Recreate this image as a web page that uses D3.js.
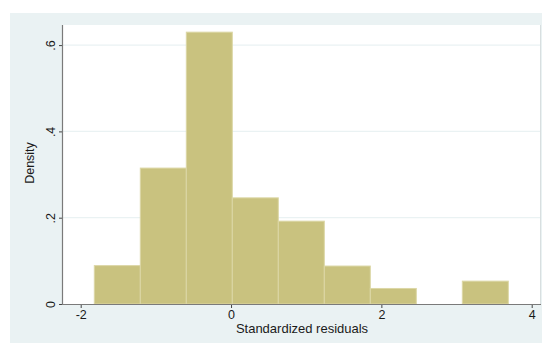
<!DOCTYPE html>
<html>
<head>
<meta charset="utf-8">
<script src="https://cdn.jsdelivr.net/npm/d3@7"></script>
<style>
  html, body { margin: 0; padding: 0; background: #ffffff; }
  svg { display: block; }
  text { font-family: "Liberation Sans", Arial, sans-serif; fill: #1a1a1a; }
</style>
</head>
<body>
<svg id="chart" width="542" height="343"></svg>
<script>
// Histogram of standardized residuals (density scale)
const binLeft = [-1.819, -1.207, -0.595, 0.017, 0.629, 1.241, 1.853, 2.465, 3.077];
const binWidth = 0.612;
const density = [0.089, 0.315, 0.630, 0.246, 0.192, 0.088, 0.036, 0, 0.053];
const xTicks = [-2, 0, 2, 4];
const xTickLabels = ["-2", "0", "2", "4"];
const yTicks = [0, 0.2, 0.4, 0.6];
const yTickLabels = ["0", ".2", ".4", ".6"];
const xTitle = "Standardized residuals";
const yTitle = "Density";

const svg = d3.select("#chart");

// graph region and plot region
const outer = { x: 10, y: 13, w: 540, h: 340 };
const plot = { left: 63, top: 25, right: 541, bottom: 304 };

svg.append("rect")
  .attr("x", outer.x).attr("y", outer.y)
  .attr("width", outer.w).attr("height", outer.h)
  .attr("fill", "#eaf2f3");

svg.append("rect")
  .attr("x", plot.left).attr("y", plot.top)
  .attr("width", plot.right - plot.left).attr("height", plot.bottom - plot.top)
  .attr("fill", "#ffffff");

svg.append("line")
  .attr("x1", plot.right - 0.5).attr("x2", plot.right - 0.5)
  .attr("y1", plot.top).attr("y2", plot.bottom)
  .attr("stroke", "#d8dfe0").attr("stroke-width", 1);

const x = d3.scaleLinear().domain([-2, 4]).range([80.7, 531.7]);
const y = d3.scaleLinear().domain([0, 0.6]).range([plot.bottom, plot.bottom - 0.6 * 431.5]);

// horizontal grid lines
svg.append("g")
  .selectAll("line")
  .data(yTicks.filter(d => d > 0))
  .join("line")
  .attr("x1", plot.left).attr("x2", plot.right - 1)
  .attr("y1", d => y(d)).attr("y2", d => y(d))
  .attr("stroke", "#eaf2f3").attr("stroke-width", 1.2);

// bars
const bins = binLeft.map((l, i) => ({ x0: l, x1: l + binWidth, d: density[i] }))
  .filter(b => b.d > 0);

svg.append("g")
  .selectAll("rect")
  .data(bins)
  .join("rect")
  .attr("x", b => x(b.x0))
  .attr("y", b => y(b.d))
  .attr("width", b => x(b.x1) - x(b.x0))
  .attr("height", b => y(0) - y(b.d))
  .attr("fill", "#c9c27f")
  .attr("stroke", "#dcd7a6")
  .attr("stroke-width", 1);

// x axis
const xAxis = d3.axisBottom(x).tickValues(xTicks).tickSize(4).tickPadding(2)
  .tickFormat((d, i) => xTickLabels[i]);
const gx = svg.append("g")
  .attr("transform", `translate(0,${plot.bottom})`)
  .call(xAxis);
gx.select(".domain").remove();
gx.append("line")
  .attr("x1", plot.left).attr("x2", plot.right)
  .attr("y1", 0.5).attr("y2", 0.5)
  .attr("stroke", "#7a7a7a").attr("stroke-width", 1.2);
gx.selectAll(".tick line").attr("stroke", "#444");
gx.selectAll(".tick text")
  .attr("font-size", 12.5)
  .style("font-family", "Liberation Sans, Arial, sans-serif")
  .attr("fill", "#1a1a1a");

// y axis
const yAxis = d3.axisLeft(y).tickValues(yTicks).tickSize(4).tickPadding(0)
  .tickFormat((d, i) => yTickLabels[i]);
const gy = svg.append("g")
  .attr("transform", `translate(${plot.left},0)`)
  .call(yAxis);
gy.select(".domain").remove();
gy.append("line")
  .attr("x1", -0.5).attr("x2", -0.5)
  .attr("y1", plot.top).attr("y2", plot.bottom + 1)
  .attr("stroke", "#7a7a7a").attr("stroke-width", 1.2);
gy.selectAll(".tick line").attr("stroke", "#444");
gy.selectAll(".tick text")
  .attr("font-size", 12.5)
  .style("font-family", "Liberation Sans, Arial, sans-serif")
  .attr("fill", "#1a1a1a")
  .attr("x", null).attr("dy", null)
  .attr("text-anchor", "middle")
  .attr("transform", "translate(-11,0) rotate(-90)")
  .attr("dominant-baseline", "middle");

// axis titles
svg.append("text")
  .attr("x", 302).attr("y", 333)
  .attr("text-anchor", "middle")
  .attr("font-size", 13)
  .text(xTitle);

svg.append("text")
  .attr("transform", `translate(34,163) rotate(-90)`)
  .attr("text-anchor", "middle")
  .attr("font-size", 12.5)
  .text(yTitle);
</script>
</body>
</html>
